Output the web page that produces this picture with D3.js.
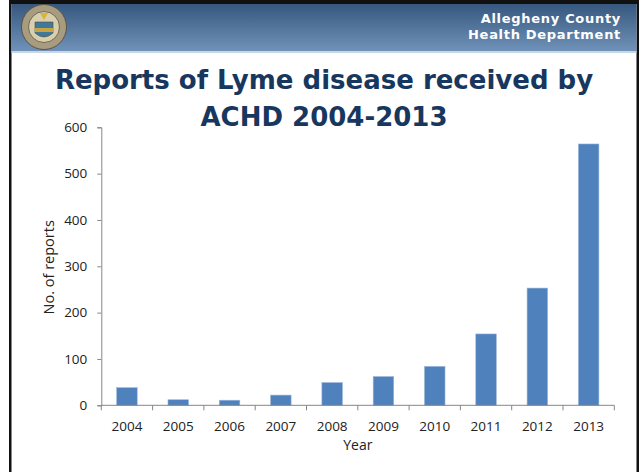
<!DOCTYPE html>
<html><head><meta charset="utf-8">
<script src="https://cdn.jsdelivr.net/npm/d3@7"></script>
<style>html,body{margin:0;padding:0;background:#fff;overflow:hidden}</style>
</head><body>
<script>
const years = ["2004","2005","2006","2007","2008","2009","2010","2011","2012","2013"];
const reports = [38, 12, 11, 22, 49, 62, 84, 154, 253, 564];
const yTicks = [0, 100, 200, 300, 400, 500, 600];
const titleLines = ["Reports of Lyme disease received by", "ACHD 2004-2013"];
const orgLines = ["Allegheny County", "Health Department"];

const W = 639, H = 472;
const svg = d3.select("body").append("svg").attr("width", W).attr("height", H);

// slide frame
svg.append("rect").attr("x",0).attr("y",0).attr("width",W).attr("height",H).attr("fill","#fff");
const defs = svg.append("defs");
const grad = defs.append("linearGradient").attr("id","hdr").attr("x1",0).attr("y1",0).attr("x2",0).attr("y2",1);
grad.append("stop").attr("offset","0%").attr("stop-color","#36587f");
grad.append("stop").attr("offset","100%").attr("stop-color","#7092b8");
svg.append("rect").attr("x",9).attr("y",0).attr("width",630).attr("height",4).attr("fill","#111");
svg.append("rect").attr("x",9).attr("y",0).attr("width",2.5).attr("height",H).attr("fill","#111");
svg.append("rect").attr("x",636.5).attr("y",0).attr("width",2.5).attr("height",H).attr("fill","#111");
svg.append("rect").attr("x",11.5).attr("y",4).attr("width",625).attr("height",47).attr("fill","url(#hdr)");
svg.append("rect").attr("x",11.5).attr("y",51).attr("width",625).attr("height",2).attr("fill","#c9d6e4");

// seal
const seal = svg.append("g").attr("transform","translate(44,27)");
seal.append("circle").attr("r",22.5).attr("fill","#a89c80").attr("stroke","#5d5240").attr("stroke-width",1);
seal.append("circle").attr("r",15.5).attr("fill","#d8cfae").attr("stroke","#5d5240").attr("stroke-width",0.8);
seal.append("path").attr("d","M-9,-5 L9,-5 L9,6 Q0,14 -9,6 Z").attr("fill","#3f7a9c").attr("stroke","#5a4a2c").attr("stroke-width",0.6);
seal.append("rect").attr("x",-9).attr("y",1).attr("width",18).attr("height",4).attr("fill","#c9a341");
seal.append("path").attr("d","M-4,-14 L0,-7 L4,-14 Z").attr("fill","#d9b437");

// header text (two separate lines)
orgLines.forEach((t,i)=>svg.append("text").attr("text-anchor","end").attr("fill","#fff")
  .attr("x",621).attr("y",23+i*15.5)
  .style("font-family","'DejaVu Sans', Verdana, sans-serif").style("font-weight","bold")
  .style("font-size","13px").style("letter-spacing","0.7px").text(t));

// title
const title = svg.append("text").attr("text-anchor","middle").attr("fill","#17375e")
  .style("font-family","'DejaVu Sans', sans-serif").style("font-weight","bold").style("font-size","26px");
title.append("tspan").attr("x",324).attr("y",88.5).text(titleLines[0]);
title.append("tspan").attr("x",324).attr("y",125.5).text(titleLines[1]);

// chart
const pLeft = 101.3, pRight = 614.3, pTop = 127.3, pBottom = 405.3;
const x = d3.scaleBand().domain(years).range([pLeft, pRight]).paddingInner(0.6).paddingOuter(0.3);
const xb = d3.scaleBand().domain(years).range([pLeft, pRight]);
const y = d3.scaleLinear().domain([0, 600]).range([pBottom, pTop]);

const font = "'Open Sans', 'Noto Sans', sans-serif";

svg.append("g").selectAll("rect").data(years).join("rect")
  .attr("x", d => x(d)).attr("width", x.bandwidth())
  .attr("y", (d,i) => y(reports[i])).attr("height", (d,i) => pBottom - y(reports[i]))
  .attr("fill", "#4f81bd").attr("stroke","#9ab5d9").attr("stroke-width",0.6);

// y axis
const yAxis = svg.append("g").attr("transform",`translate(${pLeft},0)`)
  .call(d3.axisLeft(y).tickValues(yTicks).tickSize(4).tickPadding(10));
yAxis.select(".domain").attr("stroke","#868686");
yAxis.selectAll(".tick line").attr("stroke","#868686");
yAxis.selectAll("text").style("font-family",font).style("font-size","13.5px").attr("fill","#222");

// x axis
const xg = svg.append("g").attr("transform",`translate(0,${pBottom})`);
xg.append("line").attr("x1",pLeft).attr("x2",pRight).attr("stroke","#868686");
xg.selectAll("line.tk").data(years.concat(["end"])).join("line").attr("class","tk")
  .attr("x1",(d,i)=> i<years.length ? xb(d) : pRight).attr("x2",(d,i)=> i<years.length ? xb(d) : pRight)
  .attr("y1",0).attr("y2",5).attr("stroke","#868686");
xg.selectAll("text").data(years).join("text")
  .attr("x", d => xb(d) + xb.bandwidth()/2).attr("y", 25.5).attr("text-anchor","middle")
  .style("font-family",font).style("font-size","13.5px").attr("fill","#222").text(d=>d);

// axis titles
svg.append("text").attr("x", (pLeft+pRight)/2).attr("y", 450).attr("text-anchor","middle")
  .style("font-family",font).style("font-size","14px").attr("fill","#222").text("Year");
svg.append("text").attr("transform",`translate(54,${(pTop+pBottom)/2 + 1}) rotate(-90)`).attr("text-anchor","middle")
  .style("font-family",font).style("font-size","14.5px").attr("fill","#222").text("No. of reports");
</script>
</body></html>
